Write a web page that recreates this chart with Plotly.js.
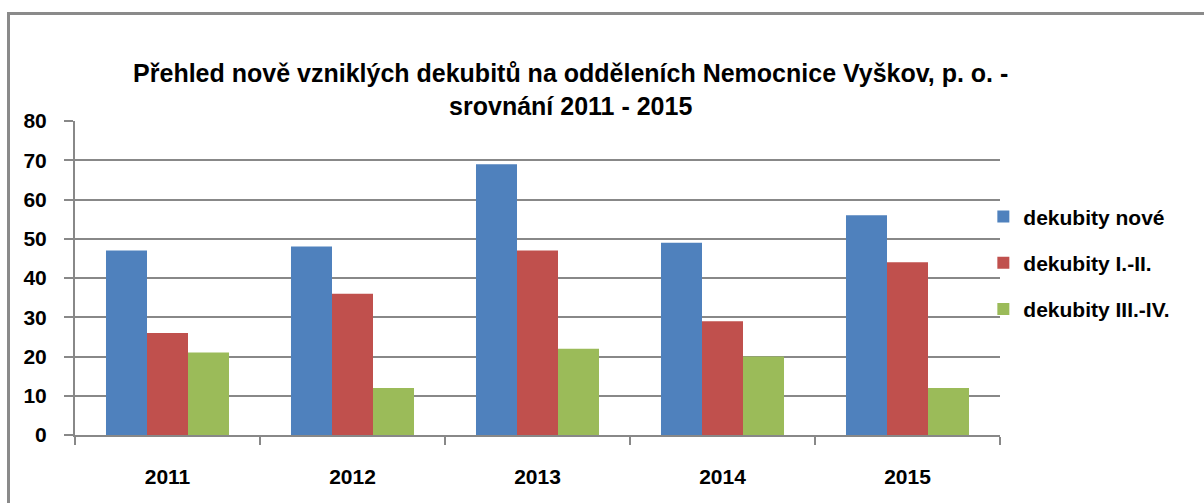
<!DOCTYPE html>
<html><head><meta charset="utf-8">
<script src="https://cdn.plot.ly/plotly-3.0.1.min.js"></script>
<style>
html,body{margin:0;padding:0;background:#fff;overflow:hidden}
#frame{position:absolute;left:7px;top:12px;width:1300px;height:600px;border:3px solid #8a8a8a;box-sizing:border-box;z-index:0}
#chart{position:absolute;left:0;top:0;width:1204px;height:503px;z-index:1}
</style></head>
<body>
<div id="frame"></div>
<div id="chart"></div>
<script>
const years = ['2011','2012','2013','2014','2015'];
const seriesNames = ['dekubity nové','dekubity I.-II.','dekubity III.-IV.'];
const noveValues = [47, 48, 69, 49, 56];
const I_IIValues = [26, 36, 47, 29, 44];
const III_IVValues = [21, 12, 22, 20, 12];
const yTicks = [0,10,20,30,40,50,60,70,80];
const colors = ['#4F81BD','#C0504D','#9BBB59'];
const allValues = [noveValues, I_IIValues, III_IVValues];

const font = 'Liberation Sans, Arial, sans-serif';
const traces = allValues.map((v,i)=>({
  type:'bar', x:years, y:v, name:seriesNames[i], legendgroup:'g'+i,
  marker:{color:colors[i], line:{width:0}}, hoverinfo:'x+y'
}));

const layout = {
  width:1204, height:503,
  margin:{l:75, r:204, t:121, b:68},
  paper_bgcolor:'rgba(0,0,0,0)', plot_bgcolor:'rgba(0,0,0,0)',
  barmode:'group', bargap:0.335, bargroupgap:0,
  title:{text:'Přehled nově vzniklých dekubitů na odděleních Nemocnice Vyškov, p. o. -<br>srovnání 2011 - 2015',
    font:{family:font, size:25, color:'#000', weight:'bold'}, x:0.474, xanchor:'center', y:0.836, yanchor:'middle'},
  xaxis:{type:'category', tickson:'boundaries', ticks:'outside', ticklen:8, tickwidth:2, tickcolor:'#888',
    showline:true, linecolor:'#888', linewidth:2, showgrid:false,
    tickfont:{family:font, size:21, color:'#000', weight:'bold'}, ticklabelstandoff:22},
  yaxis:{range:[0,80], tickvals:yTicks, ticks:'outside', ticklen:9, tickwidth:2, tickcolor:'#888',
    showline:true, linecolor:'#888', linewidth:2, gridcolor:'#888', gridwidth:2, zeroline:false,
    tickfont:{family:font, size:21, color:'#000', weight:'bold'}, ticklabelstandoff:13},
  showlegend:true,
  legend:{x:0.982, xanchor:'left', y:0.76, yanchor:'top', traceorder:'grouped', tracegroupgap:16,
    font:{family:font, size:21, color:'#000', weight:'bold'}, bgcolor:'rgba(0,0,0,0)', itemwidth:30}
};
Plotly.newPlot('chart', traces, layout, {displayModeBar:false, staticPlot:true});
</script>
</body></html>
